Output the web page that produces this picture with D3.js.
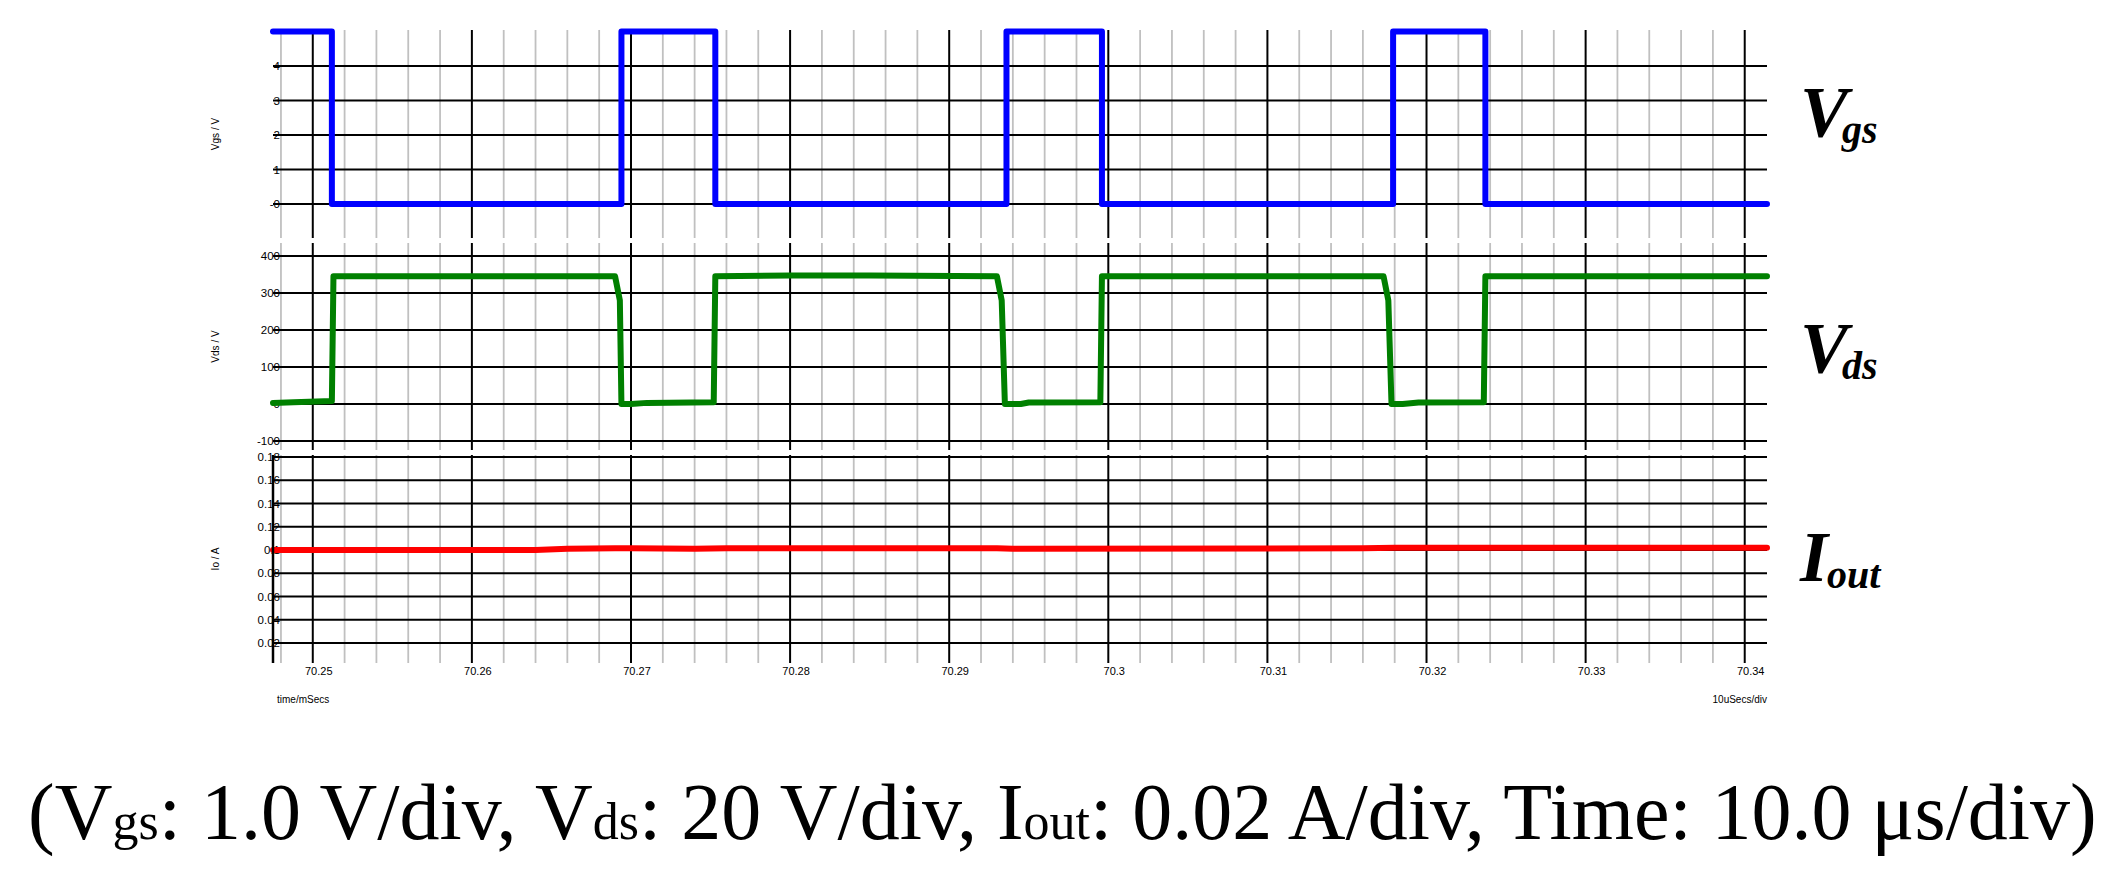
<!DOCTYPE html>
<html><head><meta charset="utf-8">
<script src="https://cdn.jsdelivr.net/npm/d3@7"></script>
<style>body{margin:0;background:#fff}</style></head>
<body><svg id="c" width="2114" height="884"></svg>
<script>
// time in ms
const vgsT = [70.2475,70.2512,70.2512,70.2694,70.2694,70.2753,70.2753,70.2936,70.2936,70.2996,70.2996,70.3179,70.3179,70.3237,70.3237,70.3414];
const vgsV = [5,5,0,0,5,5,0,0,5,5,0,0,5,5,0,0];
const vdsT = [70.2475,70.2488,70.2512,70.2513,70.2690,70.2693,70.2694,70.2700,70.2710,70.2752,70.2753,70.2800,70.2850,70.2930,70.2933,70.2935,70.2945,70.2950,70.2995,70.2996,70.3100,70.3173,70.3176,70.3178,70.3185,70.3195,70.3236,70.3237,70.3414];
const vdsV = [3,5,8,345,345,280,0,0,3,5,345,347,347,345,280,0,0,4,5,345,345,345,280,0,0,4,5,345,345];
const ioT = [70.2475,70.2640,70.2660,70.2690,70.2700,70.2740,70.2760,70.2930,70.2940,70.3160,70.3180,70.3200,70.3414];
const ioV = [0.1,0.1,0.101,0.1015,0.1015,0.101,0.1015,0.1015,0.101,0.1015,0.102,0.102,0.102];
const xTicks = [70.25,70.26,70.27,70.28,70.29,70.3,70.31,70.32,70.33,70.34];
const xTickLabels = ["70.25","70.26","70.27","70.28","70.29","70.3","70.31","70.32","70.33","70.34"];
const vgsTicks = [4,3,2,1,0], vgsLabels = ["4","3","2","1","-0"];
const vdsTicks = [400,300,200,100,0,-100], vdsLabels = ["400","300","200","100","0","-100"];
const ioTicks = [0.18,0.16,0.14,0.12,0.1,0.08,0.06,0.04,0.02], ioLabels = ["0.18","0.16","0.14","0.12","0.1","0.08","0.06","0.04","0.02"];

const svg = d3.select("#c");
const x = d3.scaleLinear().domain([70.2475,70.3414]).range([273,1767]);
const minor = d3.range(70.248, 70.3414, 0.002).filter(t => xTicks.every(m => Math.abs(m-t) > 1e-6));

const panels = [
  {T:vgsT,V:vgsV,y:d3.scaleLinear().domain([-1,5]).range([238.5,31.5]),top:30,bot:238,ticks:vgsTicks,labels:vgsLabels,color:"#0000ff",title:"Vgs / V"},
  {T:vdsT,V:vdsV,y:d3.scaleLinear().domain([-120,435]).range([448.4,243]),top:243,bot:450,ticks:vdsTicks,labels:vdsLabels,color:"#008000",title:"Vds / V"},
  {T:ioT,V:ioV,y:d3.scaleLinear().domain([0,0.18]).range([666.25,457]),top:455,bot:663,ticks:ioTicks,labels:ioLabels,color:"#ff0000",title:"Io / A"}
];
panels.forEach((p,i) => {
  const g = svg.append("g");
  g.selectAll(".mn").data(minor).join("line").attr("x1",d=>x(d)).attr("x2",d=>x(d))
    .attr("y1",p.top).attr("y2",p.bot).attr("stroke","#c0c0c0").attr("stroke-width",1.8);
  g.selectAll(".mj").data(xTicks).join("line").attr("x1",d=>x(d)).attr("x2",d=>x(d))
    .attr("y1",p.top).attr("y2",p.bot).attr("stroke","#000").attr("stroke-width",2);
  g.selectAll(".hz").data(p.ticks).join("line").attr("x1",273).attr("x2",1767)
    .attr("y1",d=>p.y(d)).attr("y2",d=>p.y(d)).attr("stroke","#000").attr("stroke-width",2);
  g.selectAll(".tl").data(p.ticks).join("text").attr("x",280).attr("y",d=>p.y(d)+4)
    .attr("text-anchor","end").attr("font-family","Liberation Sans, Arial").attr("font-size",11.5)
    .text((d,j)=>p.labels[j]);
  g.append("text").attr("transform",`translate(219,${(p.top+p.bot)/2}) rotate(-90)`)
    .attr("text-anchor","middle").attr("font-family","Liberation Sans, Arial").attr("font-size",10).text(p.title);
  const line = d3.line().x(d=>x(d[0])).y(d=>p.y(d[1]));
  g.append("path").datum(p.T.map((t,j)=>[t,p.V[j]])).attr("d",line)
    .attr("fill","none").attr("stroke",p.color).attr("stroke-width",6).attr("stroke-linejoin","round").attr("stroke-linecap","round");
});
svg.append("line").attr("x1",273).attr("x2",273).attr("y1",455).attr("y2",663).attr("stroke","#000").attr("stroke-width",2.5);
svg.selectAll(".xl").data(xTicks).join("text").attr("x",d=>x(d)+6).attr("y",675)
  .attr("text-anchor","middle").attr("font-family","Liberation Sans, Arial").attr("font-size",11).text((d,i)=>xTickLabels[i]);
svg.append("text").attr("x",277).attr("y",703).attr("font-family","Liberation Sans, Arial").attr("font-size",10).text("time/mSecs");
svg.append("text").attr("x",1767).attr("y",703).attr("text-anchor","end").attr("font-family","Liberation Sans, Arial").attr("font-size",10).text("10uSecs/div");

const lab = [["V","gs",136],["V","ds",372],["I","out",581]];
lab.forEach(l => {
  const t = svg.append("text").attr("x",1800).attr("y",l[2]).attr("font-family","Liberation Serif, Times New Roman")
    .attr("font-weight","bold").attr("font-style","italic").attr("font-size",72);
  t.append("tspan").text(l[0]);
  t.append("tspan").attr("font-size",40).attr("dy",7).attr("dx",l[0]==="V"?-6:-1).text(l[1]);
});

const cap = svg.append("text").attr("x",28).attr("y",839).attr("font-family","Liberation Serif, Times New Roman").attr("font-size",80);
[["(V",0],["gs",1],[": 1.0 V/div, V",0],["ds",1],[": 20 V/div, I",0],["out",1],[": 0.02 A/div, Time: 10.0 μs/div)",0]]
  .forEach(s => cap.append("tspan").attr("font-size",s[1]?52:80).text(s[0]));
</script></body></html>
